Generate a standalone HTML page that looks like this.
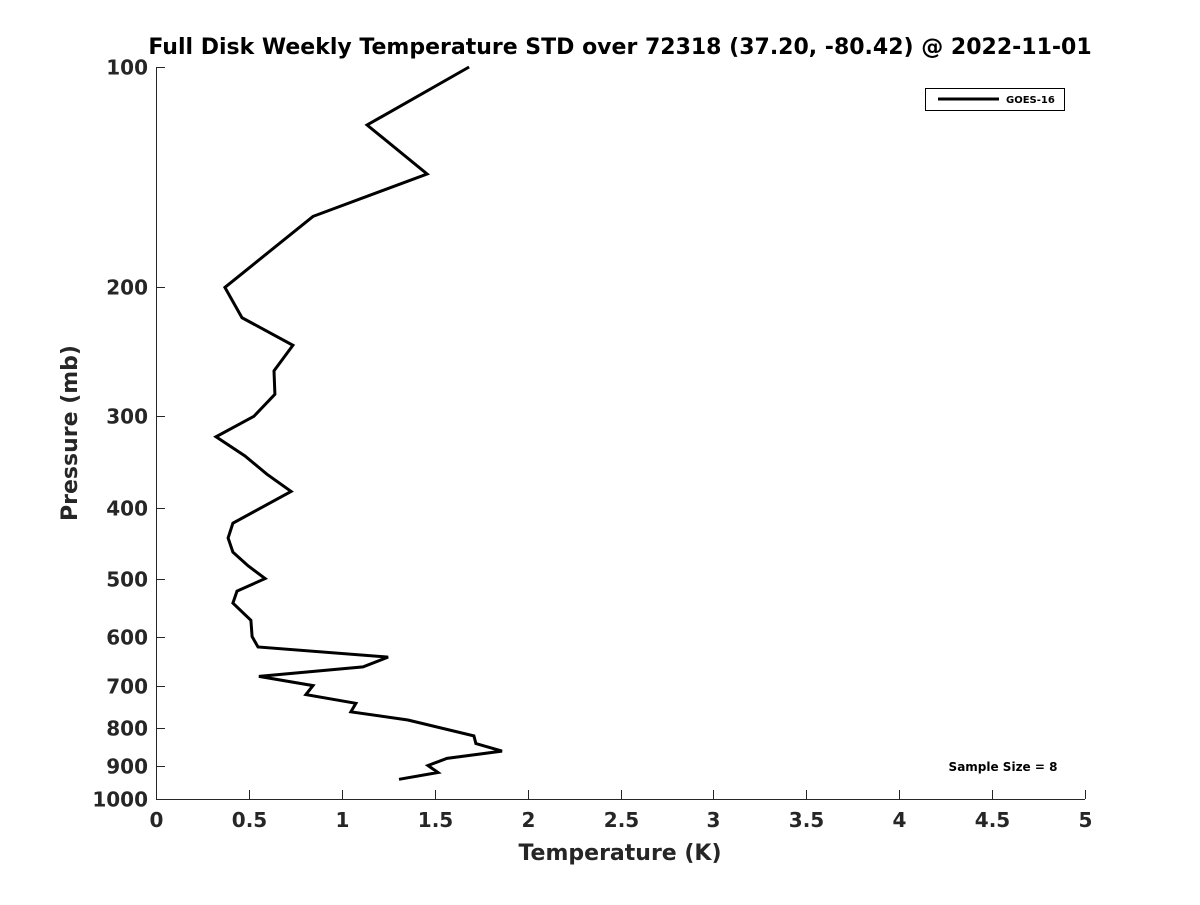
<!DOCTYPE html>
<html><head><meta charset="utf-8"><style>
body{margin:0;background:#fff;}
svg text{font-family:"DejaVu Sans","Liberation Sans",sans-serif;font-weight:bold;fill:#262626;}
</style></head><body>
<svg id="chart" width="1200" height="900" xmlns="http://www.w3.org/2000/svg">
<rect width="1200" height="900" fill="#fff"/>
<text x="620" y="54" font-size="22" text-anchor="middle" style="fill:#000">Full Disk Weekly Temperature STD over 72318 (37.20, -80.42) @ 2022-11-01</text>
<g id="axes"></g>
<path id="series" fill="none" stroke="#000" stroke-width="3" stroke-linejoin="miter"/>
<g>
<rect x="925.5" y="88.5" width="139" height="22" fill="#fff" stroke="#000" stroke-width="1"/>
<line x1="938" y1="99" x2="999" y2="99" stroke="#000" stroke-width="3"/>
<text x="1006" y="103" font-size="10" style="fill:#000">GOES-16</text>
</g>
<text x="1003" y="771" font-size="12" text-anchor="middle" style="fill:#000">Sample Size = 8</text>
<text x="620" y="860" font-size="22" text-anchor="middle">Temperature (K)</text>
<text transform="translate(77,433) rotate(-90)" font-size="22" text-anchor="middle">Pressure (mb)</text>
</svg>
<script>
const pressures=[100,120,140,160,200,220,240,260,280,300,320,340,360,380,420,440,460,480,500,520,540,570,600,620,640,660,680,700,720,740,760,780,820,840,860,880,900,920,940];
const tempStd=[1.685,1.136,1.459,0.845,0.371,0.463,0.737,0.635,0.640,0.527,0.323,0.479,0.597,0.727,0.414,0.388,0.414,0.495,0.587,0.436,0.414,0.511,0.517,0.549,1.249,1.114,0.554,0.845,0.807,1.076,1.049,1.356,1.711,1.722,1.862,1.566,1.464,1.518,1.308];
const xTicks=[0,0.5,1,1.5,2,2.5,3,3.5,4,4.5,5];
const xTickLabels=["0","0.5","1","1.5","2","2.5","3","3.5","4","4.5","5"];
const yTicks=[100,200,300,400,500,600,700,800,900,1000];
const yTickLabels=["100","200","300","400","500","600","700","800","900","1000"];
const X0=156,X1=1085,Y0=67,Y1=799;
function xs(v){return X0+(v-0)/(5-0)*(X1-X0);}
function ys(p){return Y0+(Math.log10(p)-2)*(Y1-Y0);}
const ns="http://www.w3.org/2000/svg";
const ax=document.getElementById('axes');
function mk(t,a){const e=document.createElementNS(ns,t);for(const k in a)e.setAttribute(k,a[k]);ax.appendChild(e);return e;}
let l=mk('line',{x1:X0,y1:Y1+0.5,x2:X1,y2:Y1+0.5,stroke:'#262626','stroke-width':1});


l=mk('line',{x1:X0+0.5,y1:Y0,x2:X0+0.5,y2:Y1,stroke:'#262626','stroke-width':1});


xTicks.forEach((v,i)=>{
 const x=Math.round(xs(v))+0.5;
 const t=mk('line',{x1:x,y1:Y1,x2:x,y2:Y1-9,stroke:'#262626'});
 
 
 const tx=mk('text',{x:x,y:Y1+28,'font-size':20,'text-anchor':'middle'});
 tx.textContent=xTickLabels[i];
 
 
});
yTicks.forEach((v,i)=>{
 const y=Math.round(ys(v))+0.5;
 const t=mk('line',{x1:X0,y1:y,x2:X0+9,y2:y,stroke:'#262626'});
 
 
 const tx=mk('text',{x:X0-8,y:y+7,'font-size':20,'text-anchor':'end'});
 tx.textContent=yTickLabels[i];
 
 
});
document.getElementById('series').setAttribute('d',pressures.map((p,i)=>(i?'L':'M')+xs(tempStd[i]).toFixed(1)+' '+ys(p).toFixed(1)).join(' '));
</script>
</body></html>
